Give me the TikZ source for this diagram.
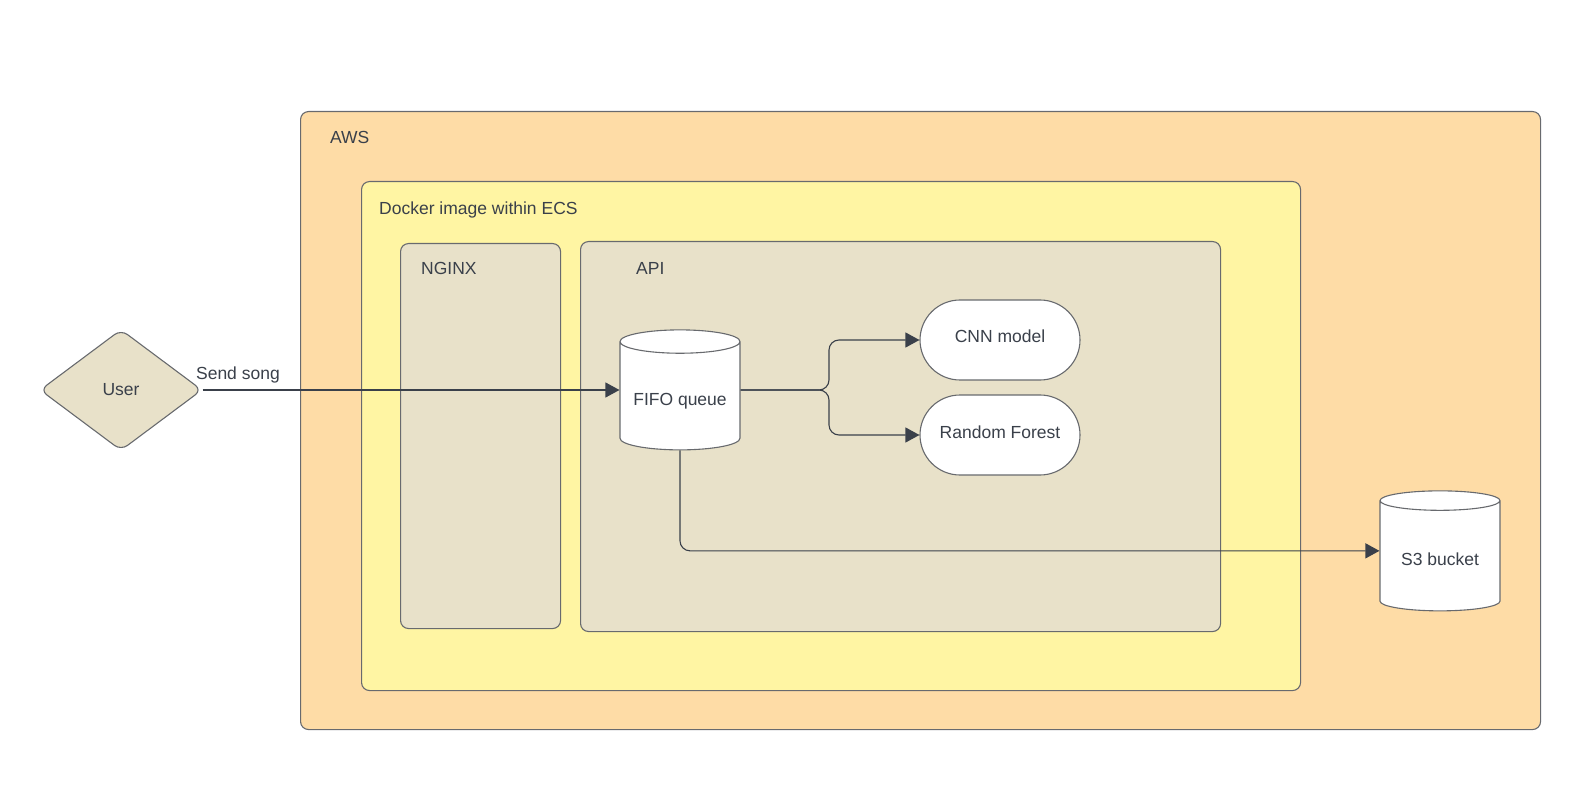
\documentclass[tikz,border=0pt]{standalone}
\usepackage{fontspec}
\setmainfont{Liberation Sans}
\usetikzlibrary{shapes.geometric,arrows.meta}
\definecolor{awsorange}{RGB}{254,220,166}
\definecolor{dockeryellow}{RGB}{255,245,163}
\definecolor{apitan}{RGB}{232,225,201}
\definecolor{edgegray}{RGB}{104,106,110}
\definecolor{inkgray}{RGB}{58,64,74}

\begin{document}
\begin{tikzpicture}[x=1pt, y=-1pt, rounded corners=8pt,
      every node/.style={font=\fontsize{17.5}{21}\selectfont, text=inkgray},
      box/.style={draw=edgegray, line width=1.1pt, anchor=north west, inner sep=0pt},
      title/.style={anchor=west, inner sep=0pt},
      store/.style={draw=edgegray, fill=white, line width=1.1pt, sharp corners, cylinder, shape border rotate=90,
        aspect=0.25, minimum width=120pt, minimum height=120pt, inner sep=0pt, text height=18pt, text depth=0pt},
      model/.style={draw=edgegray, fill=white, line width=1.1pt, rounded corners=40pt, minimum width=160pt, minimum height=80pt,
        text height=12pt, text depth=6pt},
      link/.style={draw=inkgray, line width=1.1pt, -{Triangle[length=14pt,width=15pt]}, rounded corners=10pt}]
      \useasboundingbox (0,0) rectangle (1580,802);

      % nested containers
      \node [box, fill=awsorange, minimum width=1240pt, minimum height=618pt] (aws) at (300,111) {};
      \node [box, fill=dockeryellow, minimum width=939pt, minimum height=509pt] (docker) at (361,181) {};
      \node [box, fill=apitan, minimum width=160pt, minimum height=385pt] (nginx) at (400,243) {};
      \node [box, fill=apitan, minimum width=640pt, minimum height=390pt] (api) at (580,241) {};
      \node [title] at ([shift={(30,26)}]aws.north west) {AWS};
      \node [title] at ([shift={(18,29)}]docker.north west) {Docker image within ECS};
      \node [title] at ([shift={(21,25)}]nginx.north west) {NGINX};
      \node [title] at ([shift={(56,27)}]api.north west) {API};

      \node [draw=edgegray, fill=apitan, diamond, line width=1.1pt, inner sep=0pt, minimum width=162pt, minimum height=121pt] (user) at (121,390) {User};
      \node [store] (fifo) at (680,396) {FIFO queue};
      \node [store] (s3) at (1440,556) {S3 bucket};
      \node [model] (cnn) at (1000,340) {CNN model};
      \node [model] (forest) at (1000,435) {Random Forest};

      \draw [link] (user.east) node [anchor=south west, inner sep=0pt, xshift=-7pt, yshift=6pt] {Send song} -- (user.east -| fifo.west);
      \coordinate (split) at (829,390);
      \draw [link] (split -| fifo.east) -- (split) |- (cnn.west);
      \draw [link] (split -| fifo.east) -- (split) |- (forest.west);
      \draw [link] (fifo.south) |- (s3.shape center -| s3.west);
    \end{tikzpicture}
\end{document}
